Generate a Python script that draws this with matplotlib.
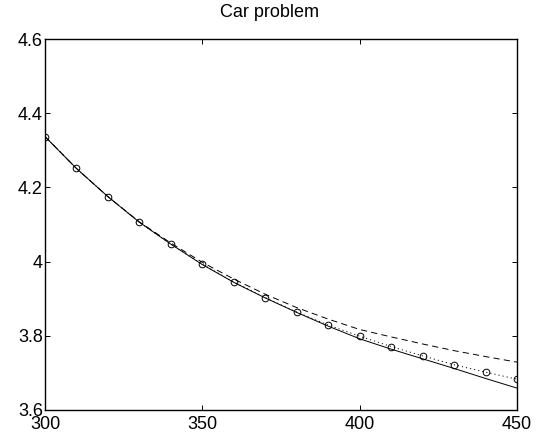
import matplotlib
matplotlib.use("Agg")
import matplotlib.pyplot as plt

plt.rcParams['font.family'] = ['Liberation Sans', 'DejaVu Sans']
plt.rcParams['lines.scale_dashes'] = False

# --- data ---
x_lines = [300, 310, 320, 330, 340, 350, 360, 370, 380, 390, 400, 410, 420, 430, 440, 450]

solid = [4.337, 4.251, 4.175, 4.106, 4.047, 3.992, 3.944, 3.902, 3.863, 3.826,
         3.792, 3.764, 3.738, 3.712, 3.685, 3.659]
dashed = [4.337, 4.251, 4.175, 4.107, 4.050, 3.998, 3.953, 3.912, 3.876, 3.845,
          3.817, 3.797, 3.778, 3.760, 3.744, 3.729]
dotted = [4.337, 4.251, 4.175, 4.106, 4.047, 3.993, 3.945, 3.903, 3.864, 3.829,
          3.799, 3.771, 3.746, 3.722, 3.702, 3.683]

x_pts = [300, 310, 320, 330, 340, 350, 360, 370, 380, 390, 400, 410, 420, 430, 440, 450]
y_pts = [4.337, 4.251, 4.175, 4.106, 4.047, 3.993, 3.945, 3.903, 3.864, 3.829,
         3.799, 3.771, 3.746, 3.722, 3.702, 3.683]

x_ticks = [300, 350, 400, 450]
y_ticks = [3.6, 3.8, 4.0, 4.2, 4.4, 4.6]
y_tick_labels = ['3.6', '3.8', '4', '4.2', '4.4', '4.6']

fig = plt.figure(figsize=(5.44, 4.45), dpi=100)
ax = fig.add_axes([45 / 544, 35 / 445, 472 / 544, 371 / 445])

ax.plot(x_lines, solid, color='black', linewidth=0.7, linestyle='-')
ax.plot(x_lines, dashed, color='black', linewidth=0.7, linestyle=(0, (4.5, 3)))
ax.plot(x_lines, dotted, color='black', linewidth=0.7, linestyle=(0, (0.8, 2.2)))
ax.plot(x_pts, y_pts, linestyle='none', marker='o', markersize=4.8,
        markerfacecolor='none', markeredgecolor='black', markeredgewidth=0.7)

ax.set_xlim(300, 450)
ax.set_ylim(3.6, 4.6)
ax.set_xticks(x_ticks)
ax.set_xticklabels([str(t) for t in x_ticks])
ax.set_yticks(y_ticks)
ax.set_yticklabels(y_tick_labels)
ax.tick_params(direction='in', length=3.5, width=0.7, top=True, right=True,
               labelsize=13, colors='black')
ax.tick_params(axis='x', pad=4.5)
ax.tick_params(axis='y', pad=1.5)
for s in ax.spines.values():
    s.set_linewidth(1.0)

ax.set_title("Car problem", fontsize=13, pad=15.5, x=(270 - 45) / 472)

fig.savefig("out.png", dpi=100)
